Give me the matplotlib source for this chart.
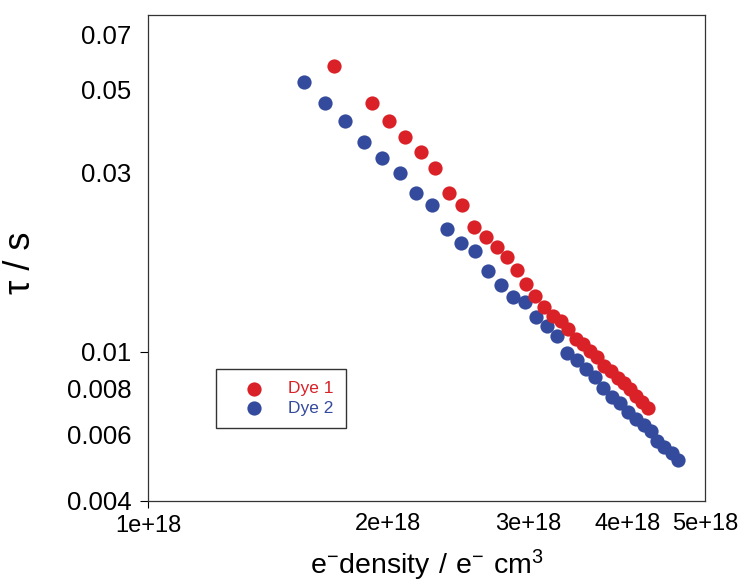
import matplotlib
matplotlib.use("Agg")
import matplotlib.pyplot as plt
from matplotlib.ticker import FixedLocator, FixedFormatter

plt.rcParams['font.family'] = ['Liberation Sans', 'DejaVu Sans']
plt.rcParams['mathtext.fontset'] = 'custom'
plt.rcParams['mathtext.rm'] = 'Liberation Sans'

# ---- data (x in e-/cm^3, tau in s) ----
dye1_x = [1.713e18, 1.912e18, 2.008e18, 2.103e18, 2.201e18, 2.292e18, 2.387e18, 2.476e18,
          2.566e18, 2.653e18, 2.740e18, 2.824e18, 2.904e18, 2.984e18, 3.062e18, 3.143e18,
          3.222e18, 3.298e18, 3.370e18, 3.444e18, 3.517e18, 3.586e18, 3.663e18, 3.735e18,
          3.808e18, 3.886e18, 3.961e18, 4.030e18, 4.097e18, 4.169e18, 4.246e18]
dye1_tau = [0.0578, 0.04604, 0.04114, 0.03745, 0.03415, 0.03094, 0.02646, 0.02455,
            0.02153, 0.02025, 0.01899, 0.01790, 0.01648, 0.01519, 0.01409, 0.01319,
            0.01244, 0.01205, 0.01152, 0.01083, 0.01048, 0.01003, 0.00970, 0.00916,
            0.00886, 0.00851, 0.00827, 0.00795, 0.00763, 0.00735, 0.00706]

dye2_x = [1.569e18, 1.668e18, 1.765e18, 1.866e18, 1.968e18, 2.069e18, 2.171e18, 2.274e18,
          2.373e18, 2.473e18, 2.574e18, 2.673e18, 2.773e18, 2.873e18, 2.975e18, 3.068e18,
          3.164e18, 3.261e18, 3.357e18, 3.451e18, 3.542e18, 3.639e18, 3.728e18, 3.819e18,
          3.911e18, 4.006e18, 4.097e18, 4.192e18, 4.274e18, 4.356e18, 4.445e18, 4.541e18,
          4.620e18]
dye2_tau = [0.05241, 0.04617, 0.04132, 0.03632, 0.03291, 0.03002, 0.02646, 0.02459,
            0.02127, 0.01951, 0.01850, 0.01643, 0.01510, 0.01403, 0.01354, 0.01238,
            0.01169, 0.01101, 0.00994, 0.00952, 0.00899, 0.00857, 0.00798, 0.00758,
            0.00731, 0.00691, 0.00661, 0.00638, 0.00615, 0.00578, 0.00557, 0.00537,
            0.00515]

series_names = ["Dye 1", "Dye 2"]

x_major = [1e18]
x_major_labels = ["1e+18"]
x_minor = [2e18, 3e18, 4e18, 5e18]
x_minor_labels = ["2e+18", "3e+18", "4e+18", "5e+18"]

y_major = [0.004, 0.01]
y_major_labels = ["0.004", "0.01"]
y_minor = [0.006, 0.008, 0.03, 0.05, 0.07]
y_minor_labels = ["0.006", "0.008", "0.03", "0.05", "0.07"]

RED = "#DA2128"
BLUE = "#344A9C"

W, H = 745, 585
fig = plt.figure(figsize=(W / 100, H / 100), dpi=100)
ax = fig.add_axes([148 / W, 84 / H, 557 / W, 486 / H])

ax.scatter(dye1_x, dye1_tau, s=105, color=RED, linewidths=0, label=series_names[0], zorder=3)
ax.scatter(dye2_x, dye2_tau, s=105, color=BLUE, linewidths=0, label=series_names[1], zorder=2)

ax.set_xscale('log')
ax.set_yscale('log')
ax.set_xlim(1e18, 5e18)
ax.set_ylim(0.004, 0.079)

ax.xaxis.set_major_locator(FixedLocator(x_major))
ax.xaxis.set_major_formatter(FixedFormatter(x_major_labels))
ax.xaxis.set_minor_locator(FixedLocator(x_minor))
ax.xaxis.set_minor_formatter(FixedFormatter(x_minor_labels))

ax.yaxis.set_major_locator(FixedLocator(y_major))
ax.yaxis.set_major_formatter(FixedFormatter(y_major_labels))
ax.yaxis.set_minor_locator(FixedLocator(y_minor))
ax.yaxis.set_minor_formatter(FixedFormatter(y_minor_labels))

ax.tick_params(axis='y', which='major', length=6, width=0.8, pad=6, labelsize=18.5, direction='out')
ax.tick_params(axis='y', which='minor', length=0, pad=12, labelsize=18.5)
ax.tick_params(axis='x', which='major', length=5, width=0.8, pad=5, labelsize=17, direction='out')
ax.tick_params(axis='x', which='minor', length=0, pad=9, labelsize=17)

for sp in ax.spines.values():
    sp.set_linewidth(0.9)
    sp.set_color('#333333')

ax.set_ylabel("τ / s", fontsize=26)
ax.yaxis.set_label_coords(-0.1975, 0.49)
ax.set_xlabel(r"$\mathregular{e^{-}density\ /\ e^{-}\ cm^{3}}$", fontsize=20.5)
ax.xaxis.set_label_coords(0.50, -0.097)

leg = ax.legend(loc='upper left', bbox_to_anchor=(216 / W, 1 - 369 / H),
                bbox_transform=fig.transFigure, borderaxespad=0, frameon=True, fancybox=False,
                edgecolor='black', fontsize=12.5, borderpad=0.7, handlelength=3.0,
                handletextpad=0.45, labelspacing=0.25, scatterpoints=1,
                labelcolor=[RED, BLUE])
leg.get_frame().set_linewidth(1.0)

fig.savefig("out.png", dpi=100)
